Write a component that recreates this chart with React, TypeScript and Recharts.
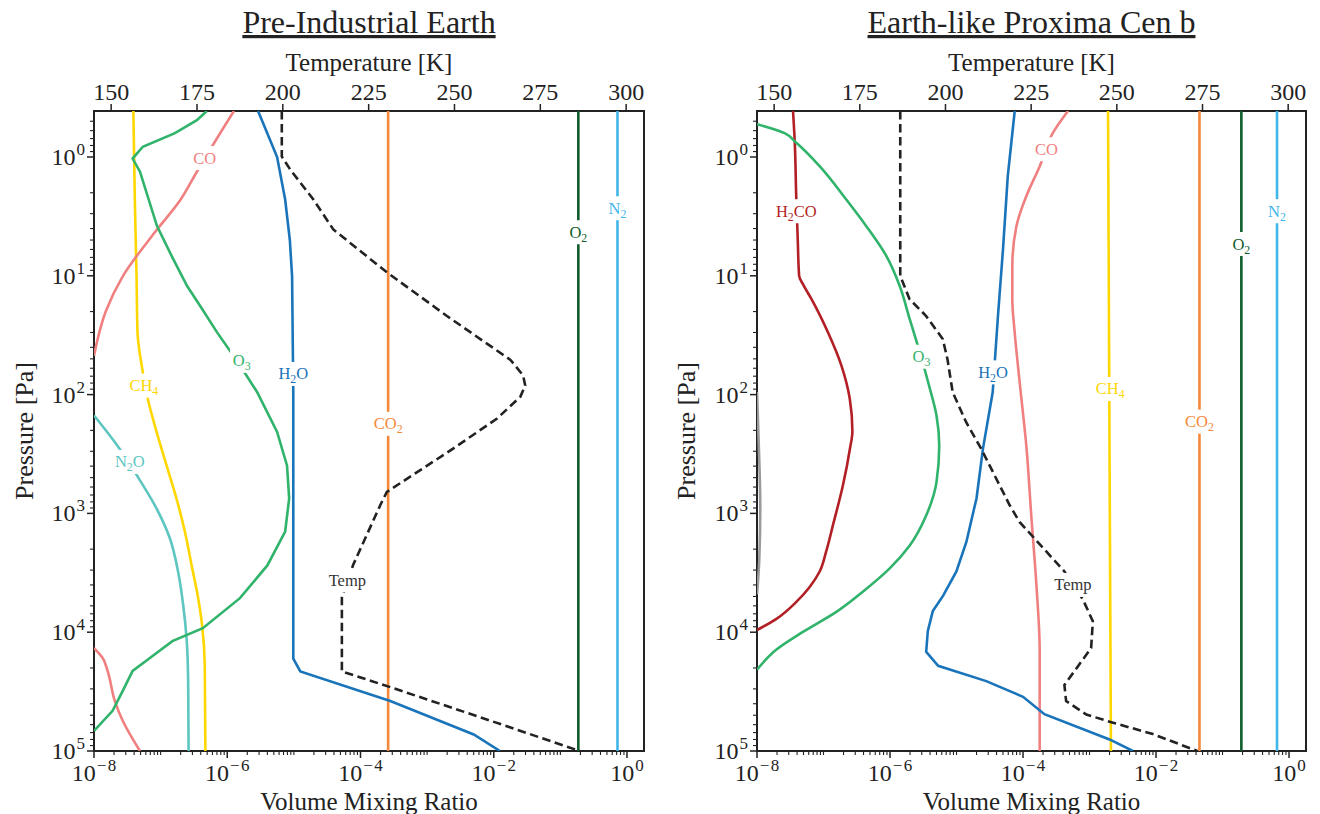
import React from 'react';
import { ScatterChart, Scatter, XAxis, YAxis, ReferenceArea } from 'recharts';

type Pt = [number, number];

const FONT = '"Liberation Serif", "DejaVu Serif", serif';
const INK = '#222222';

// ---------- axes ----------
const VMR_DOMAIN: [number, number] = [1e-8, 1.8];
const P_DOMAIN: [number, number] = [0.41, 1e5];
const T_DOMAIN: [number, number] = [145, 305.2];

const vmrLabelTicks = [1e-8, 1e-6, 1e-4, 1e-2, 1];
const vmrOddDecades = [1e-7, 1e-5, 1e-3, 1e-1];
const pLabelTicks = [1, 10, 100, 1000, 10000, 100000];
const tempTicks = [150, 175, 200, 225, 250, 275, 300];
const minorMultipliers = [2, 3, 4, 5, 6, 7, 8, 9];
const vmrExponents = [-8, -7, -6, -5, -4, -3, -2, -1, 0];
const pExponents = [-1, 0, 1, 2, 3, 4];

const inRange = (v: number, d: [number, number]) => v >= d[0] * 0.999999 && v <= d[1] * 1.000001;
const vmrTicks = [
  ...vmrLabelTicks,
  ...vmrOddDecades,
  ...vmrExponents.flatMap((e) => minorMultipliers.map((m) => m * Math.pow(10, e))),
].filter((v) => inRange(v, VMR_DOMAIN));
const pTicks = [
  ...pLabelTicks,
  ...pExponents.flatMap((e) => minorMultipliers.map((m) => m * Math.pow(10, e))),
].filter((v) => inRange(v, P_DOMAIN));

// ---------- Pre-Industrial Earth : [VMR, pressure Pa] ----------
const earthN2: Pt[] = [[0.72, 0.41], [0.72, 1e5]];
const earthO2: Pt[] = [[0.186, 0.41], [0.186, 1e5]];
const earthCO2: Pt[] = [[2.6e-4, 0.41], [2.6e-4, 1e5]];
const earthH2O: Pt[] = [
  [2.9e-6, 0.41], [4.3e-6, 0.7], [5.6e-6, 1], [7.4e-6, 2.28], [8.7e-6, 5], [9.4e-6, 10.1], [9.8e-6, 96],
  [9.8e-6, 16700], [1.25e-5, 21400], [2.8e-4, 38000], [5.0e-3, 72600], [1.24e-2, 1e5],
];
const earthO3: Pt[] = [
  [4.95e-7, 0.41], [3.5e-7, 0.49], [1.64e-7, 0.63], [5.4e-8, 0.82], [3.8e-8, 1.03], [4.9e-8, 1.33],
  [8.8e-8, 3.8], [1.5e-7, 7], [2.5e-7, 12.2], [4.2e-7, 19], [7.0e-7, 29.8], [1.5e-6, 55], [2.8e-6, 95],
  [5.6e-6, 206], [7.9e-6, 396], [8.5e-6, 750], [7.4e-6, 1420], [4.0e-6, 2740], [1.55e-6, 5170],
  [4.3e-7, 9250], [1.5e-7, 11900], [6.9e-8, 16500], [3.8e-8, 21200], [2.7e-8, 31200], [1.9e-8, 45900],
  [1.0e-8, 67600],
];
const earthCH4: Pt[] = [
  [3.9e-8, 0.41], [4.1e-8, 2.28], [4.35e-8, 10.1], [4.5e-8, 30], [5.2e-8, 57], [6.4e-8, 108],
  [8.7e-8, 206], [1.23e-7, 396], [1.73e-7, 750], [2.31e-7, 1420], [2.92e-7, 2740], [3.66e-7, 5170],
  [4.2e-7, 8800], [4.6e-7, 19000], [4.7e-7, 1e5],
];
const earthN2O: Pt[] = [
  [1.0e-8, 150], [2.05e-8, 251], [4.9e-8, 527], [8.7e-8, 910], [1.38e-7, 1625], [1.83e-7, 3100],
  [2.18e-7, 5900], [2.45e-7, 11200], [2.59e-7, 25900], [2.63e-7, 1e5],
];
const earthCOUpper: Pt[] = [
  [1.26e-6, 0.41], [5.5e-7, 0.87], [3.5e-7, 1.33], [2.0e-7, 2.28], [8.2e-8, 4.3], [2.7e-8, 10.1],
  [1.5e-8, 20], [1.0e-8, 47],
];
const earthCOLower: Pt[] = [
  [1.0e-8, 13600], [1.35e-8, 16500], [1.6e-8, 21200], [2.05e-8, 37800], [2.7e-8, 55700], [4.9e-8, 1e5],
];
// temperature : [K, pressure Pa]
const earthTemp: Pt[] = [
  [199.7, 0.41], [199.7, 0.99], [202.2, 1.28], [208.9, 2.28], [214.7, 4.07], [230.3, 9.34],
  [247.8, 21.8], [266.3, 51], [270, 69], [270.6, 84], [269.2, 104], [262.4, 159], [249.6, 285],
  [230.3, 660], [228.4, 850], [220.5, 2710], [217.2, 5100], [217.2, 21400], [231.3, 29000],
  [257.5, 52000], [286.5, 1e5],
];
const earthLabelNames = ['CO', 'CH4', 'O3', 'H2O', 'CO2', 'O2', 'N2', 'N2O'];
const earthLabelVmr = [4.6e-7, 5.6e-8, 1.65e-6, 9.8e-6, 2.6e-4, 0.186, 0.72, 3.45e-8];
const earthLabelP = [1.02, 84, 52, 67, 176, 4.3, 2.7, 369];
const earthTempLabel = { T: 218.8, p: 3660 };

// ---------- Earth-like Proxima Cen b ----------
const proxN2: Pt[] = [[0.66, 0.41], [0.66, 1e5]];
const proxO2: Pt[] = [[0.192, 0.41], [0.192, 1e5]];
const proxCO2: Pt[] = [[0.045, 0.41], [0.045, 1e5]];
const proxCH4: Pt[] = [[1.9e-3, 0.41], [2.0e-3, 300], [2.1e-3, 1e5]];
const proxH2O: Pt[] = [
  [7.5e-5, 0.41], [5.9e-5, 1.45], [5.0e-5, 6.0], [4.2e-5, 21.8], [3.5e-5, 95.5], [2.5e-5, 285],
  [2.0e-5, 745], [1.41e-5, 1730], [9.96e-6, 3080], [6.3e-6, 4920], [4.4e-6, 6650], [3.7e-6, 9800],
  [3.5e-6, 14600], [5.3e-6, 19200], [2.8e-5, 25800], [1.0e-4, 35000], [2.1e-4, 49000],
  [2.0e-3, 79900], [4.5e-3, 1e5],
];
const proxCO: Pt[] = [
  [4.75e-4, 0.41], [2.8e-4, 0.63], [1.78e-4, 1.2], [1.12e-4, 2.14], [7.96e-5, 3.82], [6.9e-5, 8.3],
  [6.9e-5, 15.7], [7.5e-5, 30], [8.9e-5, 78.6], [1.12e-4, 268], [1.34e-4, 1100], [1.59e-4, 4000],
  [1.78e-4, 14300], [1.78e-4, 1e5],
];
const proxO3: Pt[] = [
  [1.0e-8, 0.53], [2.6e-8, 0.63], [3.9e-8, 0.76], [8.8e-8, 1.2], [2.2e-7, 2.28], [4.4e-7, 3.82],
  [8.8e-7, 6.8], [1.4e-6, 12.2], [1.98e-6, 23.2], [2.8e-6, 44], [3.95e-6, 88], [5.0e-6, 150],
  [5.5e-6, 268], [5.0e-6, 545], [3.5e-6, 1040], [1.98e-6, 1860], [9.9e-7, 2900], [3.9e-7, 4560],
  [1.56e-7, 6750], [4.9e-8, 9950], [1.96e-8, 14000], [1.0e-8, 20700],
];
const proxH2CO: Pt[] = [
  [3.48e-8, 0.41], [3.7e-8, 0.76], [3.9e-8, 2.28], [4.1e-8, 4.95], [4.3e-8, 10], [5.0e-8, 12],
  [6.6e-8, 15.7], [1.17e-7, 30], [1.86e-7, 57], [2.48e-7, 108], [2.72e-7, 204], [2.5e-7, 284],
  [1.96e-7, 580], [1.39e-7, 1250], [1.1e-7, 2080], [8.8e-8, 3070], [6.2e-8, 4160], [3.9e-8, 5560],
  [1.96e-8, 7720], [1.0e-8, 9600],
];
const proxMinor: Pt[] = [[1.0e-8, 95], [1.06e-8, 250], [1.12e-8, 900], [1.08e-8, 2500], [1.0e-8, 4800]];
const proxTemp: Pt[] = [
  [186.8, 0.41], [186.8, 10], [189.5, 15.7], [194.3, 21.7], [199.2, 34], [200.6, 50.7], [202.1, 95.5],
  [206.0, 170], [210.4, 285], [218.7, 850], [221.6, 1180], [234.7, 3080], [240.1, 5300], [243.0, 8100],
  [242.5, 13600], [238.2, 20200], [234.7, 27800], [235.2, 38000], [241.1, 49400], [248.9, 57800],
  [260.5, 72000], [273.5, 1e5],
];
const proxLabelNames = ['H2CO', 'O3', 'H2O', 'CO', 'CH4', 'CO2', 'O2', 'N2'];
const proxLabelVmr = [3.9e-8, 2.97e-6, 3.54e-5, 2.25e-4, 2.05e-3, 0.045, 0.192, 0.66];
const proxLabelP = [2.86, 48, 65, 0.86, 89.6, 169, 5.4, 2.86];
const proxTempLabel = { T: 237.2, p: 4000 };

// ---------- styles ----------
const COLORS: Record<string, string> = {
  N2: '#41B6E8',
  O2: '#0E5C2C',
  CO2: '#F5883A',
  CH4: '#FFD700',
  H2O: '#1A74BA',
  O3: '#30B36B',
  CO: '#F08080',
  N2O: '#5DC6C0',
  H2CO: '#B21F24',
  Temp: '#333333',
  other: '#9A9A9A',
};

const TICK_FS = 24;
const SUP_FS = 17;
const LABEL_FS = 16.5;

const toVP = (pts: Pt[]) => pts.map(([v, p]) => ({ v, p }));
const toTP = (pts: Pt[]) => pts.map(([T, p]) => ({ T, p }));

const near = (a: number, b: number) => Math.abs(Math.log10(a) - Math.log10(b)) < 1e-6;
const expOf = (v: number) => Math.round(Math.log10(v));

const PowerLabel = ({ x, y, v, anchor }: { x: number; y: number; v: number; anchor: 'middle' | 'end' }) => {
  const e = expOf(v);
  return (
    <text x={x} y={y} textAnchor={anchor} fontFamily={FONT} fontSize={TICK_FS} fill={INK}>
      10
      {e < 0 ? (
        <>
          <tspan dy={-10} dx={1} fontSize={SUP_FS}>{'\u2212'}</tspan>
          <tspan dx={1.5} fontSize={SUP_FS}>{`${-e}`}</tspan>
        </>
      ) : (
        <tspan dy={-10} dx={1} fontSize={SUP_FS}>{`${e}`}</tspan>
      )}
    </text>
  );
};

const BottomTick = (props: any) => {
  const { x, y, payload } = props;
  const v = payload.value as number;
  const labeled = vmrLabelTicks.some((t) => near(t, v));
  const len = labeled ? 7 : 4;
  return (
    <g>
      <line x1={x} x2={x} y1={y} y2={y + len} stroke={INK} strokeWidth={labeled ? 1.5 : 1.1} />
      {labeled && <PowerLabel x={x} y={y + 30} v={v} anchor="middle" />}
    </g>
  );
};

const LeftTick = (props: any) => {
  const { x, y, payload } = props;
  const v = payload.value as number;
  const labeled = pLabelTicks.some((t) => near(t, v));
  const len = labeled ? 7 : 4;
  return (
    <g>
      <line x1={x - len} x2={x} y1={y} y2={y} stroke={INK} strokeWidth={labeled ? 1.5 : 1.1} />
      {labeled && <PowerLabel x={x - 9} y={y + 8} v={v} anchor="end" />}
    </g>
  );
};

const TopTick = (props: any) => {
  const { x, y, payload } = props;
  return (
    <g>
      <line x1={x} x2={x} y1={y - 7} y2={y} stroke={INK} strokeWidth={1.5} />
      <text x={x} y={y - 11} textAnchor="middle" fontFamily={FONT} fontSize={TICK_FS} fill={INK}>
        {payload.value}
      </text>
    </g>
  );
};

const chemParts = (name: string) => (name === 'Temp' ? ['Temp'] : name.match(/[A-Za-z]+|\d+/g) || [name]);
const chemWidth = (name: string, size: number) =>
  chemParts(name).reduce((w, part) => {
    if (/^\d+$/.test(part)) return w + part.length * 0.5 * 0.72 * size;
    return w + part.split('').reduce((a, c) => a + (c === c.toUpperCase() ? 0.7 : 0.46) * size, 0);
  }, 0);

const LabelMark = (props: any) => {
  const { cx, cy, payload } = props;
  if (cx == null || cy == null || !payload) return <g />;
  const name: string = payload.name;
  const color = COLORS[name] ?? INK;
  const w = chemWidth(name, LABEL_FS);
  const parts = chemParts(name);
  let sub = false;
  return (
    <g>
      <rect x={cx - w / 2 - 3} y={cy - 12} width={w + 6} height={24} fill="#ffffff" />
      <text x={cx} y={cy + 5.5} textAnchor="middle" fontFamily={FONT} fontSize={LABEL_FS} fill={color}>
        {parts.map((part, i) => {
          const isDigit = /^\d+$/.test(part);
          let dy = 0;
          if (isDigit && !sub) { dy = 4; sub = true; }
          else if (!isDigit && sub) { dy = -4; sub = false; }
          return (
            <tspan key={i} dy={dy} fontSize={isDigit ? LABEL_FS * 0.72 : LABEL_FS}>{part}</tspan>
          );
        })}
      </text>
    </g>
  );
};

const Nothing = () => <g />;

type Series = { key: string; color: string; data: Pt[]; curve: 'linear' | 'monotoneY' };

type PanelProps = {
  series: Series[];
  temp: Pt[];
  labelNames: string[];
  labelVmr: number[];
  labelP: number[];
  tempLabel: { T: number; p: number };
  yAxisWidth: number;
  rightMargin: number;
};

function Panel(props: PanelProps) {
  const { series, temp, labelNames, labelVmr, labelP, tempLabel, yAxisWidth, rightMargin } = props;
  const labelData = labelNames.map((name, i) => ({ name, v: labelVmr[i], p: labelP[i] }));
  return (
    <ScatterChart width={660} height={814} margin={{ top: 0, right: rightMargin, bottom: 0, left: 0 }}>
      <XAxis
        xAxisId="vmr" dataKey="v" type="number" scale="log" domain={VMR_DOMAIN} allowDataOverflow
        orientation="bottom" height={63} ticks={vmrTicks} interval={0} tick={BottomTick}
        tickLine={false} axisLine={false} tickSize={0} tickMargin={0}
      />
      <XAxis
        xAxisId="T" dataKey="T" type="number" domain={T_DOMAIN} allowDataOverflow
        orientation="top" height={111} ticks={tempTicks} interval={0} tick={TopTick}
        tickLine={false} axisLine={false} tickSize={0} tickMargin={0}
      />
      <YAxis
        yAxisId="p" dataKey="p" type="number" scale="log" domain={P_DOMAIN} allowDataOverflow reversed
        width={yAxisWidth} ticks={pTicks} interval={0} tick={LeftTick}
        tickLine={false} axisLine={false} tickSize={0} tickMargin={0}
      />
      {series.map((s) => (
        <Scatter
          key={s.key} name={s.key} xAxisId="vmr" yAxisId="p" data={toVP(s.data)} fill={s.color}
          line={{ stroke: s.color, strokeWidth: 2.6 }} lineType="joint" lineJointType={s.curve}
          shape={Nothing} isAnimationActive={false}
        />
      ))}
      <Scatter
        name="Temp" xAxisId="T" yAxisId="p" data={toTP(temp)} fill={INK}
        line={{ stroke: INK, strokeWidth: 2.6, strokeDasharray: '8.5 4.5' }} lineType="joint" shape={Nothing}
        isAnimationActive={false}
      />
      <Scatter name="labels" xAxisId="vmr" yAxisId="p" data={labelData} shape={LabelMark} isAnimationActive={false} />
      <Scatter
        name="tempLabel" xAxisId="T" yAxisId="p" data={[{ name: 'Temp', T: tempLabel.T, p: tempLabel.p }]}
        shape={LabelMark} isAnimationActive={false}
      />
      <ReferenceArea
        xAxisId="vmr" yAxisId="p" x1={VMR_DOMAIN[0]} x2={VMR_DOMAIN[1]} y1={P_DOMAIN[0]} y2={P_DOMAIN[1]}
        fill="none" stroke={INK} strokeWidth={2} ifOverflow="visible"
      />
    </ScatterChart>
  );
}

const earthSeries: Series[] = [
  { key: 'N2', color: COLORS.N2, data: earthN2, curve: 'linear' },
  { key: 'O2', color: COLORS.O2, data: earthO2, curve: 'linear' },
  { key: 'CO2', color: COLORS.CO2, data: earthCO2, curve: 'linear' },
  { key: 'N2O', color: COLORS.N2O, data: earthN2O, curve: 'monotoneY' },
  { key: 'CH4', color: COLORS.CH4, data: earthCH4, curve: 'monotoneY' },
  { key: 'COa', color: COLORS.CO, data: earthCOUpper, curve: 'monotoneY' },
  { key: 'COb', color: COLORS.CO, data: earthCOLower, curve: 'monotoneY' },
  { key: 'O3', color: COLORS.O3, data: earthO3, curve: 'linear' },
  { key: 'H2O', color: COLORS.H2O, data: earthH2O, curve: 'linear' },
];

const proxSeries: Series[] = [
  { key: 'N2', color: COLORS.N2, data: proxN2, curve: 'linear' },
  { key: 'O2', color: COLORS.O2, data: proxO2, curve: 'linear' },
  { key: 'CO2', color: COLORS.CO2, data: proxCO2, curve: 'linear' },
  { key: 'CH4', color: COLORS.CH4, data: proxCH4, curve: 'linear' },
  { key: 'minor', color: COLORS.other, data: proxMinor, curve: 'monotoneY' },
  { key: 'CO', color: COLORS.CO, data: proxCO, curve: 'monotoneY' },
  { key: 'H2CO', color: COLORS.H2CO, data: proxH2CO, curve: 'monotoneY' },
  { key: 'O3', color: COLORS.O3, data: proxO3, curve: 'monotoneY' },
  { key: 'H2O', color: COLORS.H2O, data: proxH2O, curve: 'linear' },
];

const titles = ['Pre-Industrial Earth', 'Earth-like Proxima Cen b'];
const PANEL_CENTERS = [369, 1031.5];

export default function App() {
  return (
    <div style={{ position: 'absolute', left: 0, top: 0, width: 1320, height: 814, background: '#ffffff', overflow: 'hidden' }}>
      <div style={{ position: 'absolute', left: 0, top: 0 }}>
        <Panel
          series={earthSeries} temp={earthTemp} labelNames={earthLabelNames} labelVmr={earthLabelVmr}
          labelP={earthLabelP} tempLabel={earthTempLabel} yAxisWidth={94} rightMargin={16}
        />
      </div>
      <div style={{ position: 'absolute', left: 660, top: 0 }}>
        <Panel
          series={proxSeries} temp={proxTemp} labelNames={proxLabelNames} labelVmr={proxLabelVmr}
          labelP={proxLabelP} tempLabel={proxTempLabel} yAxisWidth={97} rightMargin={14}
        />
      </div>
      <svg width={1320} height={814} style={{ position: 'absolute', left: 0, top: 0, pointerEvents: 'none' }}>
        {PANEL_CENTERS.map((cx, i) => (
          <g key={i} fontFamily={FONT} fill={INK}>
            <text x={cx} y={33} textAnchor="middle" fontSize={32} style={{ textDecoration: 'underline' }}>{titles[i]}</text>
            <text x={cx} y={71} textAnchor="middle" fontSize={25}>Temperature [K]</text>
            <text x={cx} y={810} textAnchor="middle" fontSize={25}>Volume Mixing Ratio</text>
            <text x={33 + i * 662} y={431} textAnchor="middle" fontSize={26} transform={`rotate(-90 ${33 + i * 662} 431)`}>Pressure [Pa]</text>
          </g>
        ))}
      </svg>
    </div>
  );
}
